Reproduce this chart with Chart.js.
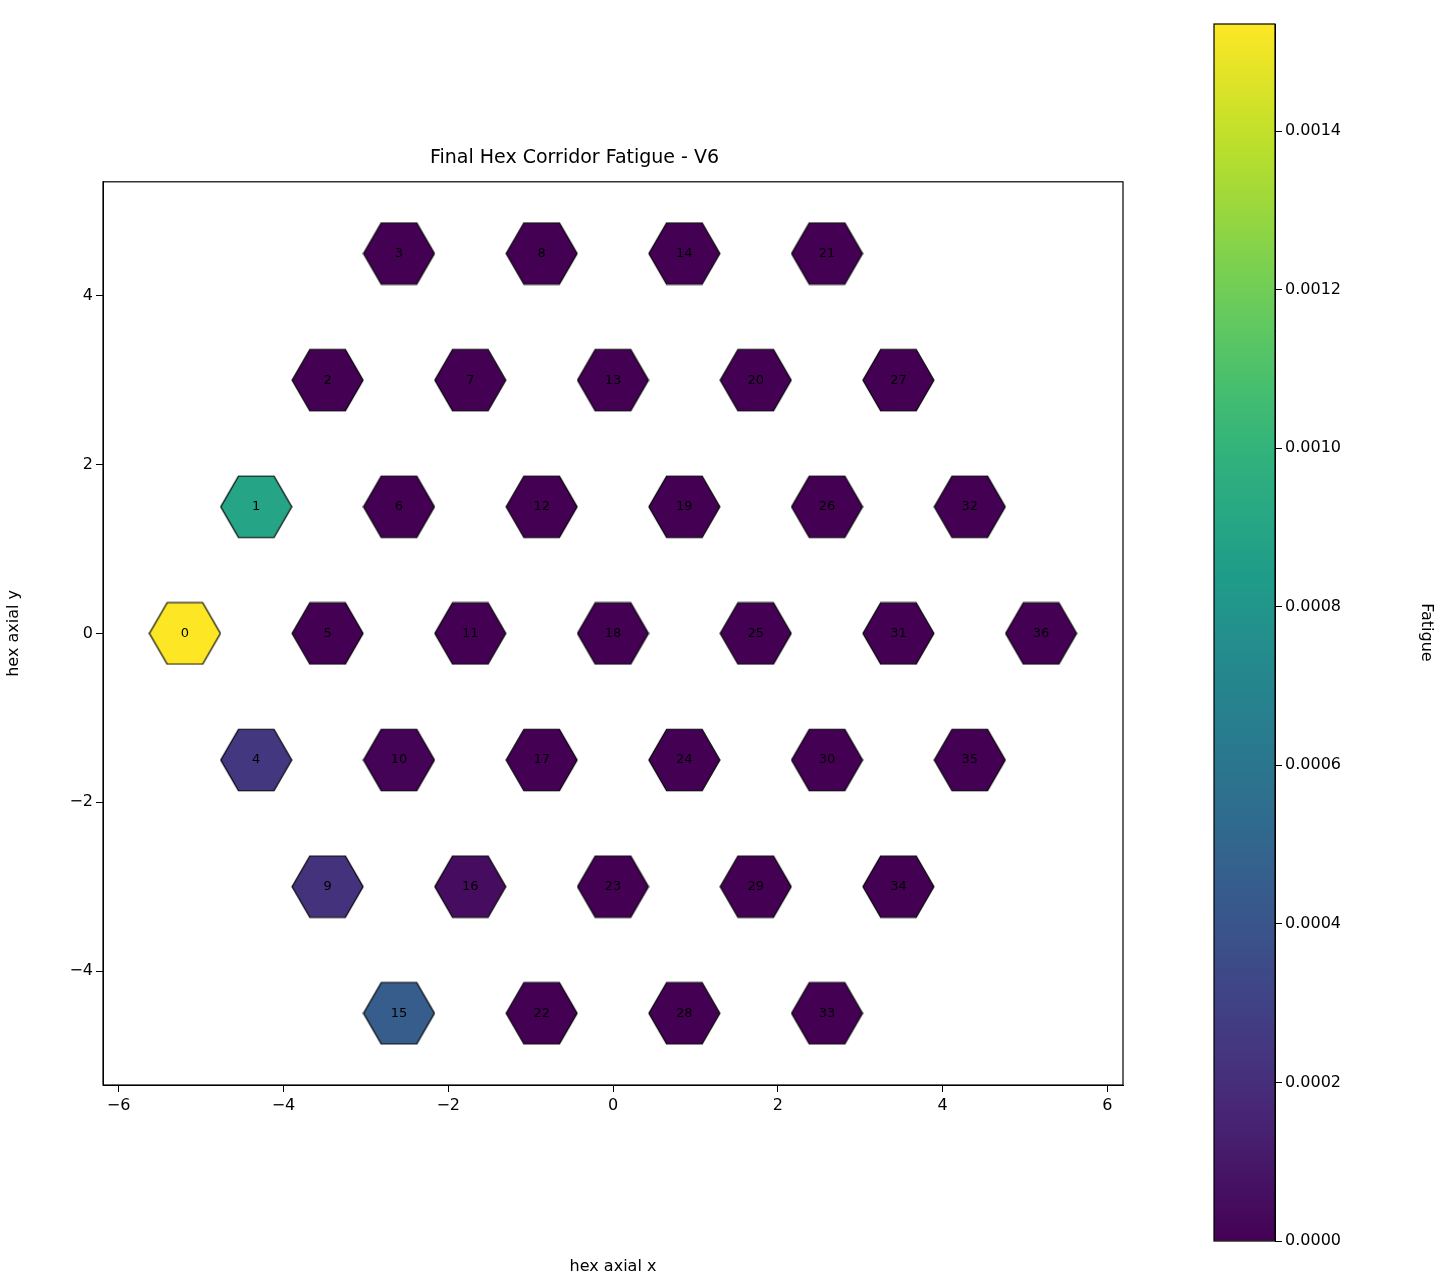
<!DOCTYPE html>
<html><head><meta charset="utf-8">
<script src="https://cdn.jsdelivr.net/npm/chart.js@4/dist/chart.umd.min.js"></script>
<style>
body{margin:0;background:#fff;width:1440px;height:1280px;position:relative;overflow:hidden}
#main{position:absolute;left:0;top:0}
#cbar{position:absolute;left:1200px;top:0}
</style></head><body>
<canvas id="main" width="1160" height="1280" style="width:1160px;height:1280px"></canvas>
<canvas id="cbar" width="240" height="1280" style="width:240px;height:1280px"></canvas>
<script>
(() => {
  'use strict'
  Chart.defaults.font.family = 'DejaVu Sans'
  Chart.defaults.color = '#000'

  const ids = [3,8,14,21, 2,7,13,20,27, 1,6,12,19,26,32, 0,5,11,18,25,31,36, 4,10,17,24,30,35, 9,16,23,29,34, 15,22,28,33]
  const xs = [-2.598,-0.866,0.866,2.598, -3.464,-1.732,0,1.732,3.464, -4.33,-2.598,-0.866,0.866,2.598,4.33,
    -5.196,-3.464,-1.732,0,1.732,3.464,5.196, -4.33,-2.598,-0.866,0.866,2.598,4.33, -3.464,-1.732,0,1.732,3.464,
    -2.598,-0.866,0.866,2.598]
  const ys = [4.5,4.5,4.5,4.5, 3,3,3,3,3, 1.5,1.5,1.5,1.5,1.5,1.5, 0,0,0,0,0,0,0,
    -1.5,-1.5,-1.5,-1.5,-1.5,-1.5, -3,-3,-3,-3,-3, -4.5,-4.5,-4.5,-4.5]
  const fatigue = [0,0,0,0, 0,0,0,0,0, 0.00090,0,0,0,0,0, 0.001535,0,0,0,0,0,0,
    0.00025,0.00001,0,0,0,0, 0.00022,0.00005,0,0,0, 0.00045,0,0,0]
  const vmax = 0.001535
  const cbarTicks = [0,0.0002,0.0004,0.0006,0.0008,0.0010,0.0012,0.0014]

  const viridis = [[68,1,84],[72,40,120],[62,74,137],[49,104,142],[38,130,142],[31,158,137],[53,183,121],[109,205,89],[180,222,44],[253,231,37]]
  function cmap(t) {
    t = Math.max(0, Math.min(1, t)) * (viridis.length - 1)
    const i = Math.min(Math.floor(t), viridis.length - 2), f = t - i
    const c = viridis[i].map((v, k) => Math.round(v + (viridis[i + 1][k] - v) * f))
    return `rgb(${c[0]},${c[1]},${c[2]})`
  }
  function hexImg(color, r) {
    const c = document.createElement('canvas')
    c.width = Math.ceil(2 * r + 2); c.height = Math.ceil(Math.sqrt(3) * r + 2)
    const g = c.getContext('2d')
    g.beginPath()
    for (let k = 0; k < 6; k++) {
      const a = k * Math.PI / 3
      g.lineTo(c.width / 2 + r * Math.cos(a), c.height / 2 + r * Math.sin(a))
    }
    g.closePath(); g.fillStyle = color; g.fill()
    g.lineWidth = 1.2; g.strokeStyle = '#000'; g.stroke()
    return c
  }

  const frame = {
    id: 'frame',
    afterDraw(chart) {
      const a = chart.chartArea, g = chart.ctx
      g.save(); g.strokeStyle = '#000'; g.lineWidth = 1.2
      g.strokeRect(a.left, a.top, a.right - a.left, a.bottom - a.top); g.restore()
    }
  }
  const labels = {
    id: 'labels',
    afterDatasetsDraw(chart) {
      const g = chart.ctx, sx = chart.scales.x, sy = chart.scales.y
      g.save(); g.font = '13px DejaVu Sans'; g.fillStyle = '#000'
      g.textAlign = 'center'; g.textBaseline = 'middle'
      ids.forEach((id, i) => g.fillText(String(id), sx.getPixelForValue(xs[i]), sy.getPixelForValue(ys[i])))
      g.restore()
    }
  }
  const evenTicks = (s) => { s.ticks = [-6,-4,-2,0,2,4,6].filter(v => v >= s.min && v <= s.max).map(v => ({value: v})) }
  const fmt = (v) => String(v).replace('-', '\u2212')

  new Chart(document.getElementById('main'), {
    type: 'scatter',
    data: {
      datasets: [{
        data: xs.map((x, i) => ({x: x, y: ys[i]})),
        pointStyle: fatigue.map(v => hexImg(cmap(v / vmax), 35.5)),
        pointRadius: 36
      }]
    },
    options: {
      responsive: false, animation: false,
      layout: {padding: {left: 0, right: 11, top: 0, bottom: 0}},
      plugins: {
        legend: {display: false}, tooltip: {enabled: false},
        title: {display: true, text: 'Final Hex Corridor Fatigue - V6', font: {size: 19, weight: 'normal'}, padding: {top: 147, bottom: 12}}
      },
      scales: {
        x: {
          type: 'linear', min: -6.19, max: 6.19,
          afterBuildTicks: evenTicks, afterFit: (s) => { s.height = 195 },
          grid: {drawOnChartArea: false, tickLength: 7, color: '#000'}, border: {color: '#000'},
          ticks: {font: {size: 16}, callback: fmt, padding: 4},
          title: {display: true, text: 'hex axial x', font: {size: 16}, padding: {top: 4}}
        },
        y: {
          type: 'linear', min: -5.35, max: 5.35,
          afterBuildTicks: evenTicks, afterFit: (s) => { s.width = 103 },
          grid: {drawOnChartArea: false, tickLength: 7, color: '#000'}, border: {color: '#000'},
          ticks: {font: {size: 16}, callback: fmt},
          title: {display: true, text: 'hex axial y', font: {size: 16}}
        }
      }
    },
    plugins: [frame, labels]
  })

  new Chart(document.getElementById('cbar'), {
    type: 'bar',
    data: {
      labels: [''],
      datasets: [{
        data: [vmax], barPercentage: 1, categoryPercentage: 1,
        backgroundColor: (ctx) => {
          const a = ctx.chart.chartArea
          if (!a) return cmap(0)
          const gr = ctx.chart.ctx.createLinearGradient(0, a.bottom, 0, a.top)
          for (let k = 0; k <= 20; k++) gr.addColorStop(k / 20, cmap(k / 20))
          return gr
        }
      }]
    },
    options: {
      responsive: false, animation: false,
      layout: {padding: {left: 14, right: 0, top: 24, bottom: 39}},
      plugins: {legend: {display: false}, tooltip: {enabled: false}},
      scales: {
        x: {display: false},
        y: {
          position: 'right', min: 0, max: vmax,
          afterBuildTicks: (s) => { s.ticks = cbarTicks.map(v => ({value: v})) },
          afterFit: (s) => { s.width = 165 },
          grid: {drawOnChartArea: false, tickLength: 7, color: '#000'}, border: {color: '#000'},
          ticks: {font: {size: 16}, callback: (v) => v.toFixed(4)},
          title: {display: true, text: 'Fatigue', font: {size: 16}}
        }
      }
    },
    plugins: [frame]
  })
})();
</script>
</body></html>
